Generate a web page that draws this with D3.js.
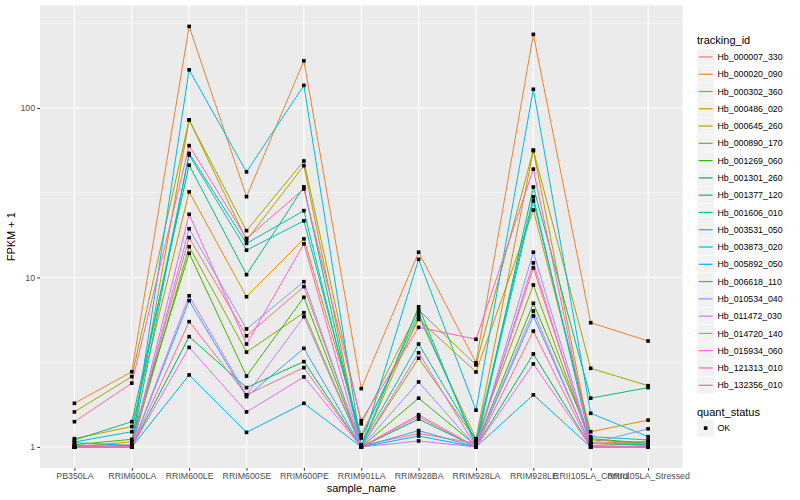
<!DOCTYPE html>
<html><head><meta charset="utf-8">
<script src="https://cdn.jsdelivr.net/npm/d3@7"></script>
<style>body{margin:0;background:#fff}text{font-family:"Liberation Sans",Arial,sans-serif}</style>
</head><body><svg id="c" width="800" height="500"></svg>
<script>
const samples = ["PB350LA","RRIM600LA","RRIM600LE","RRIM600SE","RRIM600PE","RRIM901LA","RRIM928BA","RRIM928LA","RRIM928LE","RRII105LA_Control","RRII105LA_Stressed"];
const trackingIds = ["Hb_000007_330","Hb_000020_090","Hb_000302_360","Hb_000486_020","Hb_000645_260","Hb_000890_170","Hb_001269_060","Hb_001301_260","Hb_001377_120","Hb_001606_010","Hb_003531_050","Hb_003873_020","Hb_005892_050","Hb_006618_110","Hb_010534_040","Hb_011472_030","Hb_014720_140","Hb_015934_060","Hb_121313_010","Hb_132356_010"];
const colors = ["#F8766D","#EA8331","#D89000","#C09B00","#A3A500","#7CAE00","#39B600","#00BB4E","#00BF7D","#00C1A3","#00BFC4","#00BAE0","#00B0F6","#35A2FF","#9590FF","#C77CFF","#E76BF3","#FA62DB","#FF62BC","#FF6C91"];
// FPKM + 1 values, one array per tracking_id, in sample order
const s000007_330 = [1.02,1.03,17.2,4.53,8.83,1.02,1.20,1.05,11.4,1.05,1.08];
const s000020_090 = [1.81,2.78,303,30,190,2.21,14.1,3.14,272,5.41,4.22];
const s000302_360 = [1.12,1.32,32,7.7,16.9,1.18,5.66,2.77,25,1.23,1.44];
const s000486_020 = [1.00,1.075,85,16.6,45.7,1.00,5.87,1.12,56,1.10,1.05];
const s000645_260 = [1.61,2.60,85,18.9,48.7,1.37,6.43,3.05,56.5,2.91,2.30];
const s000890_170 = [1.00,1.00,15.2,3.63,6.2,1.00,3.34,1.10,9.03,1.05,1.02];
const s001269_060 = [1.03,1.11,13.9,2.62,7.64,1.00,1.94,1.02,7.04,1.12,1.05];
const s001301_260 = [1.00,1.00,4.48,2.24,3.19,1.00,1.46,1.00,3.54,1.00,1.00];
const s001377_120 = [1.10,1.41,46,10.4,34.3,1.00,6.72,1.00,34.2,1.94,2.24];
const s001606_010 = [1.00,1.02,54,15.9,24.8,1.03,4.05,1.10,29.9,1.05,1.03];
const s003531_050 = [1.07,1.23,52.8,14.5,21.6,1.13,6.15,1.05,28.3,1.15,1.10];
const s003873_020 = [1.06,1.02,168,42,136,1.00,12.8,1.65,129,1.58,1.15];
const s005892_050 = [1.00,1.00,2.66,1.22,1.81,1.00,1.16,1.00,2.03,1.00,1.00];
const s006618_110 = [1.00,1.00,7.3,1.98,3.82,1.00,1.25,1.00,5.93,1.02,1.00];
const s010534_040 = [1.00,1.00,19.4,4.97,9.45,1.00,2.42,1.00,14.1,1.05,1.28];
const s011472_030 = [1.00,1.00,7.8,2.03,5.87,1.00,1.085,1.00,6.34,1.00,1.00];
const s014720_140 = [1.00,1.00,3.87,1.61,2.59,1.00,1.51,1.00,3.09,1.00,1.00];
const s015934_060 = [1.00,1.00,23.6,4.05,15.8,1.00,3.60,1.00,12.2,1.00,1.00];
const s121313_010 = [1.41,2.38,60,17,33.3,1.43,5.08,4.32,43.6,1.05,1.05];
const s132356_010 = [1.00,1.00,5.49,2.03,2.94,1.00,1.55,1.00,4.83,1.00,1.00];
const yTicks = [1,10,100];
const yMinor = [Math.pow(10,-0.5),Math.pow(10,0.5),Math.pow(10,1.5),Math.pow(10,2.5)];

const seriesValues = [s000007_330,s000020_090,s000302_360,s000486_020,s000645_260,s000890_170,s001269_060,s001301_260,s001377_120,s001606_010,s003531_050,s003873_020,s005892_050,s006618_110,s010534_040,s011472_030,s014720_140,s015934_060,s121313_010,s132356_010];
const series = trackingIds.map((id,i)=>({id, color: colors[i], values: seriesValues[i]}));

const svg = d3.select("#c");
const P = {l:40, r:682.5, t:5.4, b:468};
const all = seriesValues.flat();
const lmin = Math.log10(d3.min(all)), lmax = Math.log10(d3.max(all));
const ex = (lmax - lmin) * 0.05;
const y = d3.scaleLog().domain([Math.pow(10,lmin-ex), Math.pow(10,lmax+ex)]).range([P.b, P.t]);
const x = d3.scalePoint().domain(samples).range([P.l, P.r]).padding(0.6);

svg.append("rect").attr("x",P.l).attr("y",P.t).attr("width",P.r-P.l).attr("height",P.b-P.t).attr("fill","#EBEBEB");
const g = svg.append("g");
yMinor.filter(v=>y(v)>=P.t && y(v)<=P.b).forEach(v=>{
  g.append("line").attr("x1",P.l).attr("x2",P.r).attr("y1",y(v)).attr("y2",y(v)).attr("stroke","#fff").attr("stroke-width",0.55);
});
yTicks.forEach(v=>{
  g.append("line").attr("x1",P.l).attr("x2",P.r).attr("y1",y(v)).attr("y2",y(v)).attr("stroke","#fff").attr("stroke-width",1.1);
});
samples.forEach(s=>{
  g.append("line").attr("x1",x(s)).attr("x2",x(s)).attr("y1",P.t).attr("y2",P.b).attr("stroke","#fff").attr("stroke-width",1.1);
});

const line = d3.line().x((d,i)=>x(samples[i])).y(d=>y(d));
series.forEach(s=>{
  svg.append("path").attr("d",line(s.values)).attr("fill","none").attr("stroke",s.color).attr("stroke-width",1);
});
series.forEach(s=>{
  svg.append("g").selectAll("rect").data(s.values).join("rect")
    .attr("x",(d,i)=>x(samples[i])-1.8).attr("y",d=>y(d)-1.8).attr("width",3.6).attr("height",3.6).attr("fill","#000");
});

// axes
const ya = svg.append("g").attr("transform",`translate(${P.l},0)`)
  .call(d3.axisLeft(y).tickValues(yTicks).tickFormat(d3.format("d")).tickSize(2.75).tickPadding(2.2));
ya.select(".domain").remove();
ya.selectAll("line").attr("stroke","#333");
ya.selectAll("text").attr("fill","#4D4D4D").style("font-size","8.8px").style("font-family","Liberation Sans, Arial, sans-serif");
const xa = svg.append("g").attr("transform",`translate(0,${P.b})`)
  .call(d3.axisBottom(x).tickSize(2.75).tickPadding(2.2));
xa.select(".domain").remove();
xa.selectAll("line").attr("stroke","#333");
xa.selectAll("text").attr("fill","#4D4D4D").style("font-size","8.8px").style("font-family","Liberation Sans, Arial, sans-serif");

svg.append("text").attr("x",(P.l+P.r)/2).attr("y",492).attr("text-anchor","middle").style("font-size","11px").text("sample_name");
svg.append("text").attr("transform",`translate(15,${(P.t+P.b)/2}) rotate(-90)`).attr("text-anchor","middle").style("font-size","11px").text("FPKM + 1");

// legend
const L = {x:697, y0:48.3, h:17.28};
svg.append("text").attr("x",L.x).attr("y",43.5).style("font-size","11px").text("tracking_id");
series.forEach((s,i)=>{
  const ty = L.y0 + i*L.h;
  svg.append("rect").attr("x",L.x).attr("y",ty).attr("width",17.28).attr("height",17.28).attr("fill","#F2F2F2").attr("stroke","#fff").attr("stroke-width",0.5);
  svg.append("line").attr("x1",L.x+1.7).attr("x2",L.x+15.6).attr("y1",ty+8.64).attr("y2",ty+8.64).attr("stroke",s.color).attr("stroke-width",1.2);
  svg.append("text").attr("x",L.x+20.5).attr("y",ty+8.64+3.1).style("font-size","8.8px").text(s.id);
});
svg.append("text").attr("x",L.x).attr("y",416).style("font-size","11px").text("quant_status");
svg.append("rect").attr("x",L.x).attr("y",419.5).attr("width",17.28).attr("height",17.28).attr("fill","#F2F2F2");
svg.append("rect").attr("x",L.x+8.64-1.8).attr("y",428.1-1.8).attr("width",3.6).attr("height",3.6).attr("fill","#000");
svg.append("text").attr("x",L.x+20.5).attr("y",428.1+3.1).style("font-size","8.8px").text("OK");
</script></body></html>
